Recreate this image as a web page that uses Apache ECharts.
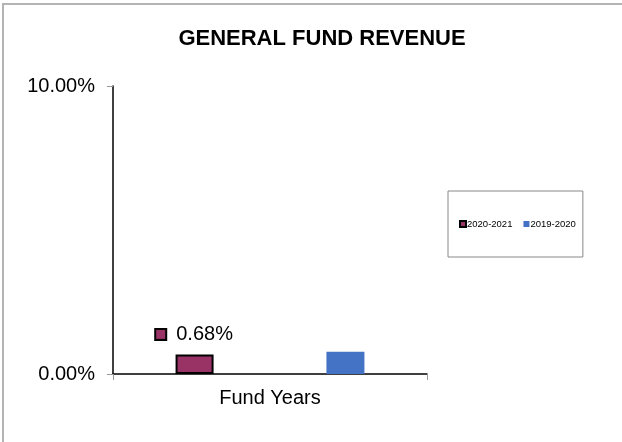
<!DOCTYPE html>
<html>
<head>
<meta charset="utf-8">
<script src="https://cdn.jsdelivr.net/npm/echarts@6/dist/echarts.min.js"></script>
<style>
    html, body { margin: 0; padding: 0; background: #fff; }
    #container {
        width: 622px; height: 442px; box-sizing: border-box;
        border-top: 2px solid #b4b4b4; border-left: 2px solid #b4b4b4;
        position: absolute; left: 2px; top: 3px;
    }
</style>
</head>
<body>
<div id="container"></div>
<script>
    var categories = ['Fund Years'];
    var seriesNames = ['2020-2021', '2019-2020'];
    var values2021 = [0.68];
    var values2020 = [0.77];
    var yTicks = [0, 10];

    var dom = document.getElementById("container");
    var myChart = echarts.init(dom, null, { width: 620, height: 439 });
    var font = 'Liberation Sans, Arial, sans-serif';

    var option = {
        animation: false,
        title: {
            text: 'GENERAL FUND REVENUE',
            left: 313,
            top: 18,
            textAlign: 'center',
            textStyle: { fontFamily: font, fontSize: 22, fontWeight: 'bold', color: '#000' }
        },
        legend: {
            data: seriesNames,
            left: 444,
            top: 186,
            orient: 'horizontal',
            itemWidth: 6,
            itemHeight: 6,
            itemGap: 11,
            padding: [28, 7, 28, 11],
            borderColor: '#888',
            borderWidth: 1,
            textStyle: { fontFamily: font, fontSize: 9.5, color: '#000', padding: [0, 0, 0, -4] },
            icon: 'rect'
        },
        grid: { left: 109, right: 197, top: 81, bottom: 70 },
        xAxis: {
            type: 'category',
            data: categories,
            axisLine: { lineStyle: { color: '#000', width: 1.5 } },
            axisTick: { show: true, length: 6, lineStyle: { color: '#999' } },
            axisLabel: { fontFamily: font, fontSize: 20, color: '#000', margin: 14 }
        },
        yAxis: {
            type: 'value',
            min: yTicks[0],
            max: yTicks[1],
            interval: yTicks[1] - yTicks[0],
            splitLine: { show: false },
            axisLine: { show: true, lineStyle: { color: '#000', width: 1.5 } },
            axisTick: { show: true, length: 6, lineStyle: { color: '#999' } },
            axisLabel: {
                fontFamily: font, fontSize: 20, color: '#000', margin: 18,
                formatter: function (v) { return v.toFixed(2) + '%'; }
            }
        },
        series: [{
            name: seriesNames[0],
            type: 'bar',
            data: values2021,
            barWidth: 38,
            barGap: '297%',
            itemStyle: { color: '#993366', borderColor: '#000', borderWidth: 2 },
            label: {
                show: true,
                position: 'top',
                distance: 10,
                formatter: function (p) { return '{sq|}{v|' + p.value.toFixed(2) + '%}'; },
                rich: {
                    sq: { width: 9, height: 9, backgroundColor: '#993366', borderColor: '#000', borderWidth: 2 },
                    v: { fontFamily: font, fontSize: 20, color: '#000', padding: [0, 0, 0, 11] }
                }
            }
        }, {
            name: seriesNames[1],
            type: 'bar',
            data: values2020,
            barWidth: 38,
            itemStyle: { color: '#4472C4' }
        }]
    };

    if (option && typeof option === "object") {
        myChart.setOption(option, true);
    }
</script>
</body>
</html>
